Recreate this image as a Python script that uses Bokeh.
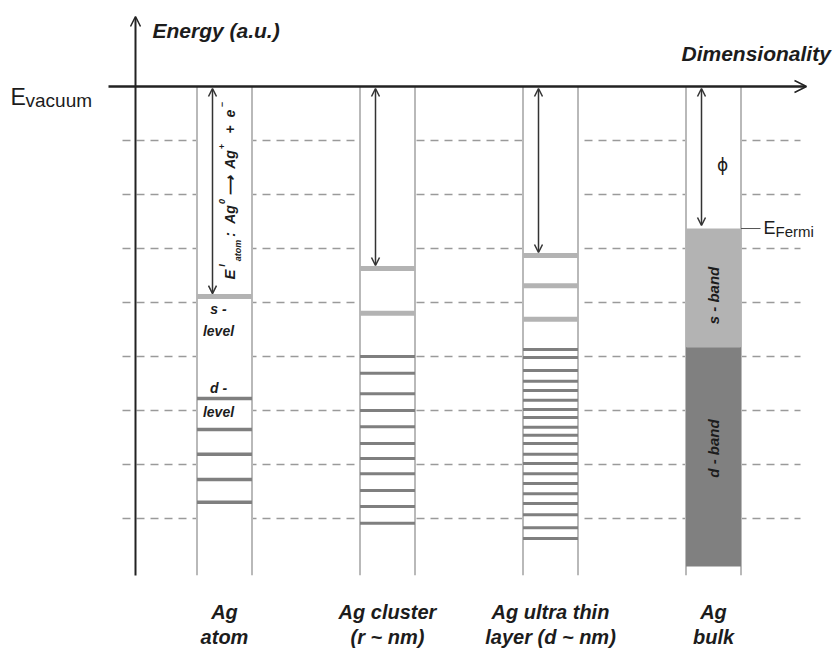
import numpy as np
from bokeh.plotting import figure
from bokeh.models import Range1d, Arrow, OpenHead
from bokeh.core.properties import value
from bokeh.embed import file_html
from bokeh.resources import INLINE

# ---------------- data (energies in a.u., vacuum level = 0) ----------------
col_pos = [0, 1, 2, 3]
label_line1 = ["Ag", "Ag cluster", "Ag ultra thin", "Ag"]
label_line2 = ["atom", "(r ~ nm)", "layer (d ~ nm)", "bulk"]
grid_levels = [-1, -2, -3, -4, -5, -6, -7, -8]

atom_s_levels = [-3.89]
atom_d_levels = [-5.78, -6.35, -6.81, -7.28, -7.70]
cluster_s_levels = [-3.37, -4.20]
cluster_d_levels = [-5.00, -5.31, -5.69, -6.00, -6.30, -6.61, -6.89, -7.17, -7.48, -7.78, -8.09]
thin_s_levels = [-3.13, -3.69, -4.31]
thin_d_levels = [-4.87, -5.02, -5.26, -5.46, -5.63, -5.81, -5.98, -6.13, -6.31, -6.46,
                 -6.61, -6.81, -6.98, -7.17, -7.35, -7.54, -7.72, -7.93, -8.17, -8.37]
bulk_fermi = -2.63
bulk_sd_boundary = -4.83
bulk_d_bottom = -8.89
column_bottom = -9.05
top_levels = [atom_s_levels[0], cluster_s_levels[0], thin_s_levels[0], bulk_fermi]

# ---------------- layout helpers (page pixels -> data units) ----------------
W, H = 835, 648
PX0, PXU = 224.0, 163.0
PY0, PYU = 86.0, 54.0


def fx(px):
    return (px - PX0) / PXU


def fy(py):
    return -(py - PY0) / PYU


p = figure(width=W, height=H, output_backend="svg", toolbar_location=None,
           x_range=Range1d(fx(0), fx(W)), y_range=Range1d(fy(H), fy(0)),
           x_axis_location=None, y_axis_location=None, min_border=0)
p.grid.visible = False
p.outline_line_color = None
p.background_fill_color = "white"

FONT = value("Liberation Sans")
DARK = "#1c1c1c"
CW = 55.0 / PXU  # column width

# dashed grid lines
p.segment(x0=fx(122), x1=fx(800), y0=grid_levels, y1=grid_levels,
          line_color="#9a9a9a", line_width=1.5, line_dash="8 6")

# columns
p.vbar(x=col_pos, width=CW, top=0, bottom=column_bottom, fill_color="white", line_color=None)
edges = [c - CW / 2 for c in col_pos] + [c + CW / 2 for c in col_pos]
p.segment(x0=edges, x1=edges, y0=0, y1=column_bottom, line_color="#b9b9b9", line_width=2)

# bulk bands
p.vbar(x=[3], width=CW, top=bulk_fermi, bottom=bulk_sd_boundary,
       fill_color="#b3b3b3", line_color=None)
p.vbar(x=[3], width=CW, top=bulk_sd_boundary, bottom=bulk_d_bottom,
       fill_color="#808080", line_color=None)


def levels(col, ys, color, lw):
    p.segment(x0=col - CW / 2, x1=col + CW / 2, y0=ys, y1=ys,
              line_color=color, line_width=lw, line_cap="butt")


LIGHT, MID = "#b3b3b3", "#7f7f7f"
levels(0, atom_s_levels, LIGHT, 5)
levels(0, atom_d_levels, MID, 3.5)
levels(1, cluster_s_levels, LIGHT, 5)
levels(1, cluster_d_levels, MID, 3)
levels(2, thin_s_levels, LIGHT, 5)
levels(2, thin_d_levels, MID, 3)

# Fermi tick
p.segment(x0=[3 + CW / 2], x1=[fx(760)], y0=[bulk_fermi], y1=[bulk_fermi],
          line_color="#555555", line_width=1)

# axes with arrows
p.add_layout(Arrow(end=OpenHead(size=10, line_width=1.5, line_color="#222222"),
                   x_start=fx(135), y_start=fy(575), x_end=fx(135), y_end=fy(16),
                   line_color="#222222", line_width=2))
p.add_layout(Arrow(end=OpenHead(size=12, line_width=1.5, line_color="#222222"),
                   x_start=fx(108), y_start=0, x_end=fx(806), y_end=0,
                   line_color="#222222", line_width=2.5))

# double arrows (ionisation energy / work function)
for c, t in zip(col_pos, top_levels):
    p.add_layout(Arrow(start=OpenHead(size=8, line_width=1.5, line_color="#333333"),
                       end=OpenHead(size=8, line_width=1.5, line_color="#333333"),
                       x_start=c - 12 / PXU, y_start=-2 / PYU,
                       x_end=c - 12 / PXU, y_end=t + 3 / PYU,
                       line_color="#333333", line_width=1.5))


def label(px, py, txt, size, style="bold italic", align="left", font=FONT, angle=0.0):
    p.text(x=[fx(px)], y=[fy(py)], text=[txt], text_font=font,
           text_font_style=style, text_font_size=f"{size}px", text_color=DARK,
           text_align=align, text_baseline="middle", angle=angle)


# axis titles
label(152, 30, "Energy (a.u.)", 21)
label(681, 53, "Dimensionality", 21)

# E vacuum
label(10, 96, "E", 23, style="normal")
label(25, 100, "vacuum", 19, style="normal")

# E Fermi
label(763, 227, "E", 18, style="normal")
label(775, 231, "Fermi", 15, style="normal")

# phi
label(722, 164, "ϕ", 17, style="normal", align="center", font=value("DejaVu Sans"))

# band labels (rotated)
p.text(x=[3, 3], y=[fy(295), fy(448)], text=["s - band", "d - band"], text_font=FONT,
       text_font_style="bold italic", text_font_size="15px", text_color=DARK,
       text_align="center", text_baseline="middle", angle=np.pi / 2)

# s-level / d-level labels
for py, txt in [(308, "s -"), (330, "level"), (387, "d -"), (411, "level")]:
    label(218, py, txt, 14, align="center")

# rotated ionisation formula in the atom column: E^I_atom : Ag^0 -> Ag^+ + e^-
pieces = [("E", 229, 274, 15), ("I", 221, 265, 9), ("atom", 237, 250, 9),
          (":", 229, 234, 14), ("Ag", 229, 214, 14), ("0", 221, 201, 9),
          ("⟶", 229, 185, 14), ("Ag", 229, 159, 14), ("+", 221, 146, 9),
          ("+", 229, 129, 14), ("e", 229, 113, 14), ("−", 221, 104, 9)]
for t, px, py, s in pieces:
    label(px, py, t, s, align="center", angle=np.pi / 2)

# bottom labels
p.text(x=col_pos, y=[fy(611.5)] * 4, text=label_line1, text_font=FONT,
       text_font_style="bold italic", text_font_size="20px", text_color=DARK,
       text_align="center", text_baseline="middle")
p.text(x=col_pos, y=[fy(636)] * 4, text=label_line2, text_font=FONT,
       text_font_style="bold italic", text_font_size="20px", text_color=DARK,
       text_align="center", text_baseline="middle")

open("out.html", "w").write(file_html(p, INLINE))
